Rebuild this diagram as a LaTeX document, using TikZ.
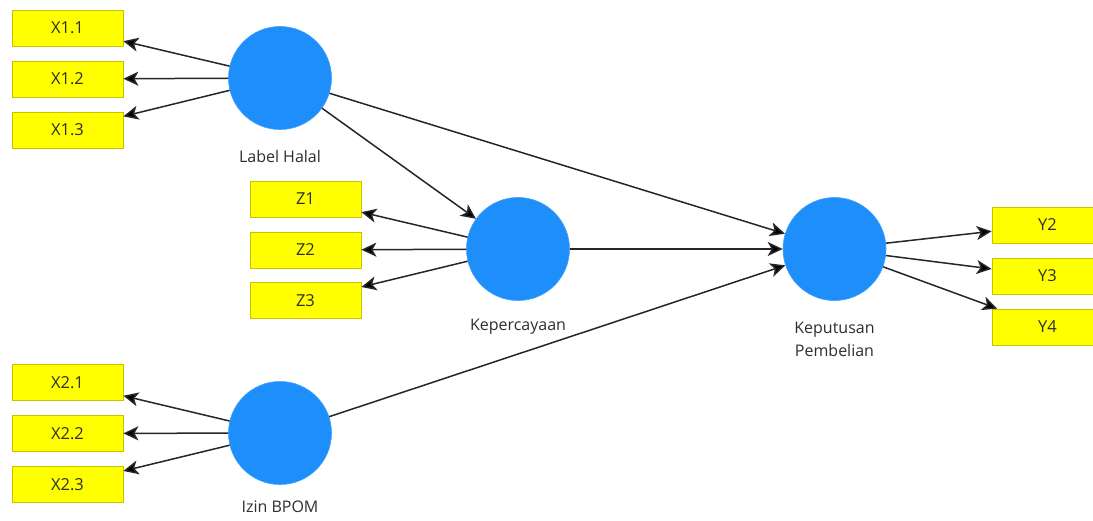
\documentclass[tikz,border=0pt]{standalone}
\usepackage{fontspec}
\setmainfont{Open Sans}
\usetikzlibrary{arrows.meta}
\definecolor{lvblue}{HTML}{1E8FFA}
\definecolor{indyellow}{HTML}{FFFF00}
\definecolor{indborder}{HTML}{C9C200}
\definecolor{linecol}{HTML}{262626}
\definecolor{txtcol}{HTML}{2E2E2E}
\tikzset{
  indbox/.style={draw=indborder, line width=0.8pt, fill=indyellow, minimum width=111pt, minimum height=36pt, inner sep=0pt, font=\fontsize{16.5}{20}\selectfont, text=txtcol},
  latent/.style={circle, fill=lvblue, draw=lvblue!85!white, line width=0.6pt, minimum size=103pt, inner sep=0pt},
  lvlabel/.style={font=\fontsize{16}{23}\selectfont, text=txtcol, align=center},
  conn/.style={draw=linecol, line width=1.5pt, -{Stealth[length=15pt,width=14pt,inset=4pt,fill=black]}}
}
\begin{document}
\begin{tikzpicture}[x=1pt,y=-1pt]
\clip (0,0) rectangle (1093,520);
\fill[white] (0,0) rectangle (1093,520);
% indicators
\node[indbox] (x11) at (67.5,28) {X1.1};
\node[indbox] (x12) at (67.5,79) {X1.2};
\node[indbox] (x13) at (67.5,130) {X1.3};
\node[indbox] (z1) at (305.5,199) {Z1};
\node[indbox] (z2) at (305.5,250) {Z2};
\node[indbox] (z3) at (305.5,300.5) {Z3};
\node[indbox] (x21) at (67.5,382.5) {X2.1};
\node[indbox] (x22) at (67.5,433.5) {X2.2};
\node[indbox] (x23) at (67.5,484.5) {X2.3};
\node[indbox] (y2) at (1047.5,225) {Y2};
\node[indbox] (y3) at (1047.5,276) {Y3};
\node[indbox] (y4) at (1047.5,327) {Y4};
% latent variables
\node[latent] (lh) at (280,78) {};
\node[latent] (kp) at (518,249) {};
\node[latent] (kb) at (834.5,249) {};
\node[latent] (ib) at (280,433) {};
% labels
\node[lvlabel] (lhl) at (280,156) {Label Halal};
\node[lvlabel] (kpl) at (518,327) {Kepercayaan};
\node[lvlabel] (kbl) at (834.5,339.5) {Keputusan\\Pembelian};
\node[lvlabel] (ibl) at (280,507) {Izin BPOM};
% connectors
\draw[conn] (lh) -- (x11);
\draw[conn] (lh) -- (x12);
\draw[conn] (lh) -- (x13);
\draw[conn] (kp) -- (z1);
\draw[conn] (kp) -- (z2);
\draw[conn] (kp) -- (z3);
\draw[conn] (ib) -- (x21);
\draw[conn] (ib) -- (x22);
\draw[conn] (ib) -- (x23);
\draw[conn] (kb) -- (y2);
\draw[conn] (kb) -- (y3);
\draw[conn] (kb) -- (y4);
\draw[conn] (lh) -- (kp);
\draw[conn] (lh) -- (kb);
\draw[conn] (kp) -- (kb);
\draw[conn] (ib) -- (kb);
\end{tikzpicture}
\end{document}
